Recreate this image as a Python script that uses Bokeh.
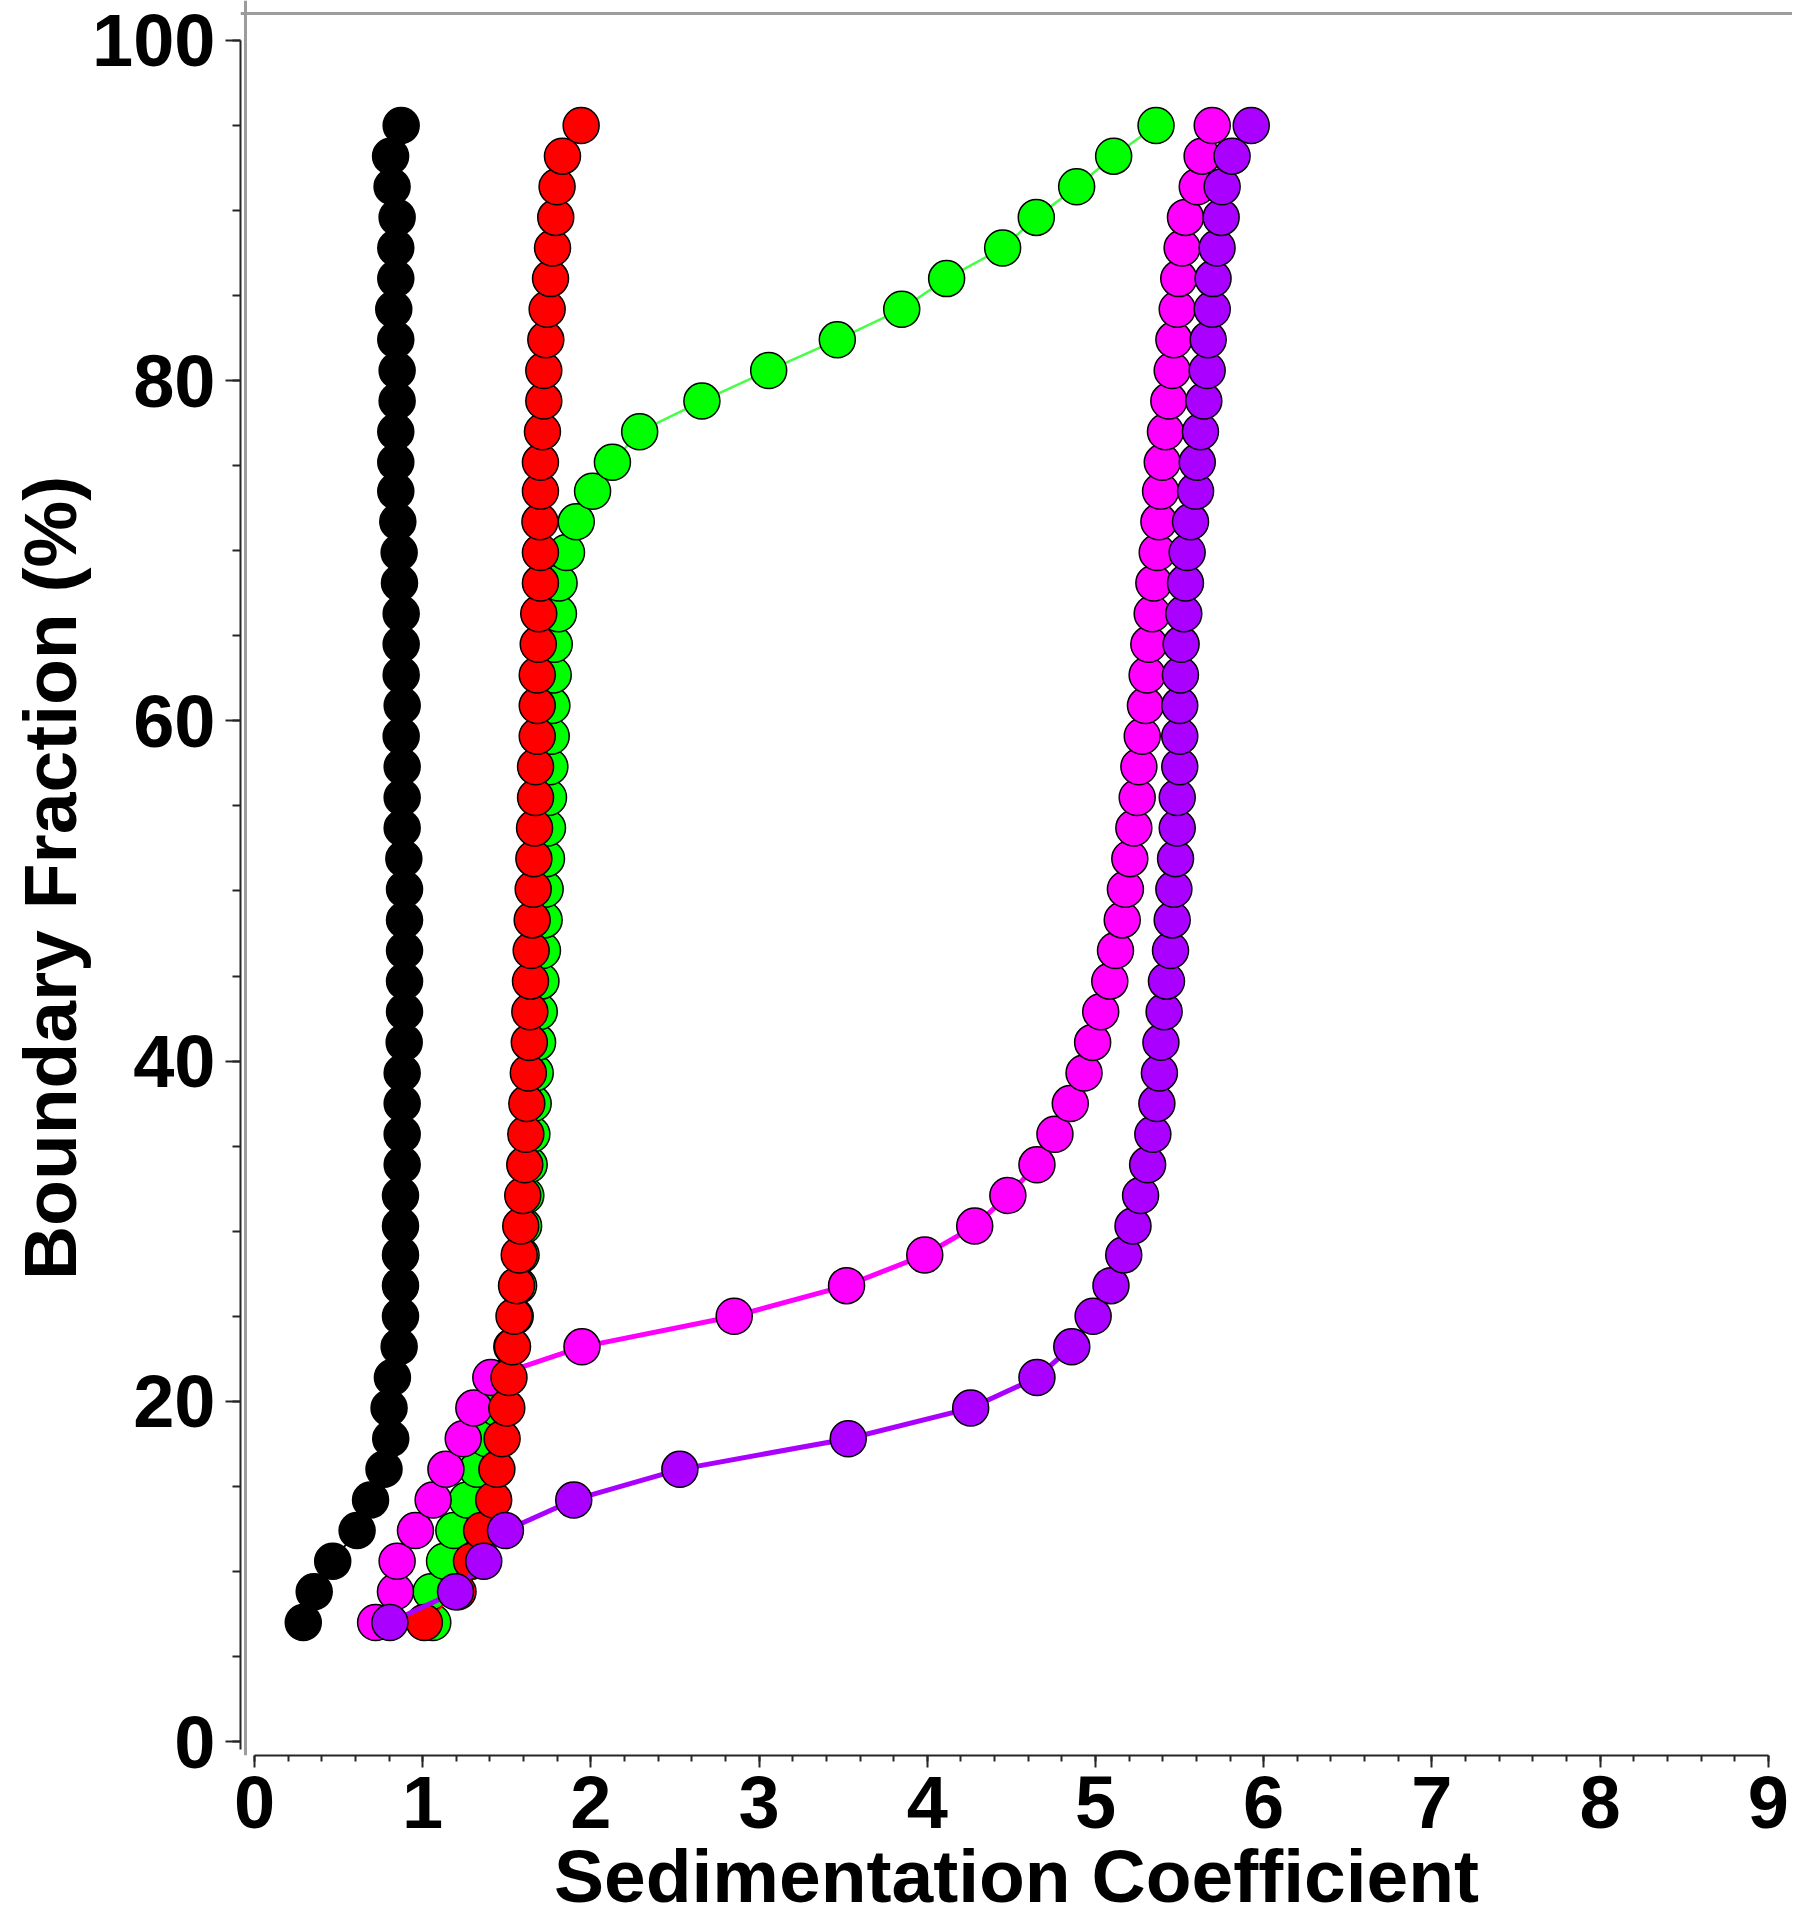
from bokeh.plotting import figure
from bokeh.models import Range1d, FixedTicker, Span
from bokeh.embed import file_html
from bokeh.resources import INLINE

# Boundary fraction (%) shared by all five curves
boundary_fraction = [7.0, 8.8, 10.6, 12.4, 14.2, 16.0, 17.8, 19.6, 21.4, 23.2,
                     25.0, 26.8, 28.6, 30.3, 32.1, 33.9, 35.7, 37.5, 39.3, 41.1,
                     42.9, 44.7, 46.5, 48.3, 50.1, 51.9, 53.7, 55.5, 57.3, 59.1,
                     60.9, 62.7, 64.5, 66.3, 68.1, 69.9, 71.7, 73.5, 75.2, 77.0,
                     78.8, 80.6, 82.4, 84.2, 86.0, 87.8, 89.6, 91.4, 93.2, 95.0]

# Sedimentation coefficients
s_black = [0.29, 0.355, 0.465, 0.61, 0.69, 0.77, 0.81, 0.80, 0.82, 0.86,
           0.868, 0.868, 0.868, 0.868, 0.868, 0.878, 0.878, 0.878, 0.878, 0.89,
           0.892, 0.892, 0.892, 0.892, 0.892, 0.888, 0.878, 0.878, 0.878, 0.872,
           0.878, 0.872, 0.872, 0.872, 0.862, 0.86, 0.852, 0.84, 0.84, 0.84,
           0.848, 0.848, 0.84, 0.828, 0.84, 0.84, 0.848, 0.818, 0.809, 0.872]

s_green = [1.06, 1.05, 1.13, 1.185, 1.264, 1.324, 1.38, 1.44, 1.49, 1.53,
           1.55, 1.57, 1.585, 1.60, 1.613, 1.633, 1.649, 1.657, 1.669, 1.683,
           1.693, 1.703, 1.712, 1.722, 1.728, 1.736, 1.742, 1.748, 1.756, 1.764,
           1.768, 1.776, 1.782, 1.807, 1.811, 1.855, 1.913, 2.01, 2.128, 2.29,
           2.66, 3.057, 3.465, 3.848, 4.115, 4.448, 4.648, 4.888, 5.108, 5.36]

s_magenta = [0.72, 0.838, 0.848, 0.957, 1.062, 1.138, 1.241, 1.304, 1.405, 1.947,
             2.852, 3.52, 3.985, 4.282, 4.479, 4.652, 4.759, 4.850, 4.932, 4.983,
             5.031, 5.085, 5.119, 5.159, 5.178, 5.204, 5.228, 5.248, 5.258, 5.278,
             5.297, 5.307, 5.317, 5.337, 5.347, 5.367, 5.377, 5.387, 5.397, 5.416,
             5.436, 5.456, 5.466, 5.486, 5.495, 5.515, 5.535, 5.605, 5.634, 5.694]

s_red = [1.01, 1.21, 1.29, 1.35, 1.422, 1.441, 1.472, 1.50, 1.513, 1.534,
         1.543, 1.558, 1.574, 1.583, 1.595, 1.607, 1.613, 1.619, 1.628, 1.634,
         1.637, 1.641, 1.645, 1.651, 1.657, 1.661, 1.665, 1.671, 1.671, 1.681,
         1.681, 1.681, 1.687, 1.69, 1.70, 1.70, 1.697, 1.70, 1.70, 1.712,
         1.72, 1.72, 1.732, 1.74, 1.76, 1.772, 1.791, 1.799, 1.831, 1.942]

s_purple = [0.805, 1.195, 1.363, 1.492, 1.898, 2.529, 3.53, 4.258, 4.652, 4.859,
            4.986, 5.092, 5.168, 5.223, 5.268, 5.310, 5.341, 5.365, 5.380, 5.389,
            5.408, 5.422, 5.446, 5.456, 5.466, 5.476, 5.486, 5.486, 5.501, 5.501,
            5.501, 5.505, 5.509, 5.525, 5.535, 5.545, 5.565, 5.595, 5.605, 5.624,
            5.644, 5.664, 5.670, 5.694, 5.699, 5.723, 5.747, 5.753, 5.812, 5.926]

x_ticks = [0, 1, 2, 3, 4, 5, 6, 7, 8, 9]
y_ticks = [0, 20, 40, 60, 80, 100]

FONT = "Liberation Sans"

p = figure(width=1792, height=1920,
           x_range=Range1d(-0.0832, 9.144), y_range=Range1d(-0.823, 102.35),
           output_backend="svg", toolbar_location=None,
           min_border_left=240, min_border_right=0,
           min_border_top=0, min_border_bottom=165)
p.outline_line_color = None
p.xgrid.visible = False
p.ygrid.visible = False
p.background_fill_color = "white"
p.border_fill_color = "white"

# grey frame lines (top and left)
p.add_layout(Span(location=101.59, dimension="width", line_color="#9c9c9c", line_width=3))
p.add_layout(Span(location=-0.0535, dimension="height", line_color="#9c9c9c", line_width=3))

xa = p.xaxis[0]
xa.ticker = FixedTicker(ticks=x_ticks, minor_ticks=[i * 0.2 for i in range(46)])
xa.bounds = (0, 9)
xa.axis_label = "Sedimentation Coefficient"
ya = p.yaxis[0]
ya.ticker = FixedTicker(ticks=y_ticks, minor_ticks=[i * 5 for i in range(21)])
ya.bounds = (-0.45, 100)
ya.axis_label = "Boundary Fraction (%)"

for ax in (xa, ya):
    ax.axis_line_color = "#262626"
    ax.axis_line_width = 2
    ax.major_tick_line_color = "#262626"
    ax.minor_tick_line_color = "#262626"
    ax.major_tick_line_width = 2
    ax.minor_tick_line_width = 2
    ax.major_tick_in = 0
    ax.minor_tick_in = 0
    ax.major_label_text_font = FONT
    ax.major_label_text_font_size = "74px"
    ax.major_label_text_font_style = "bold"
    ax.major_label_text_color = "black"
    ax.axis_label_text_font = FONT
    ax.axis_label_text_font_size = "75px"
    ax.axis_label_text_font_style = "bold"
    ax.axis_label_text_color = "black"

xa.major_tick_out = 12
xa.minor_tick_out = 6
xa.major_label_standoff = 8
xa.axis_label_standoff = 3
ya.major_tick_out = 15
ya.minor_tick_out = 8
ya.major_label_standoff = 10
ya.axis_label_standoff = -3

series = [
    (s_black, "black", "black", 2),
    (s_green, "#00ff00", "#44ff44", 2.5),
    (s_magenta, "#ff00ff", "#ff00ff", 5),
    (s_red, "#ff0000", "#ff0000", 2),
    (s_purple, "#aa00ff", "#aa00ff", 5),
]
for xs, fill, lcol, lw in series:
    p.line(xs, boundary_fraction, line_color=lcol, line_width=lw)
    p.scatter(xs, boundary_fraction, size=36, fill_color=fill,
              line_color="black", line_width=1.5, marker="circle")

open("out.html", "w").write(file_html(p, INLINE))
